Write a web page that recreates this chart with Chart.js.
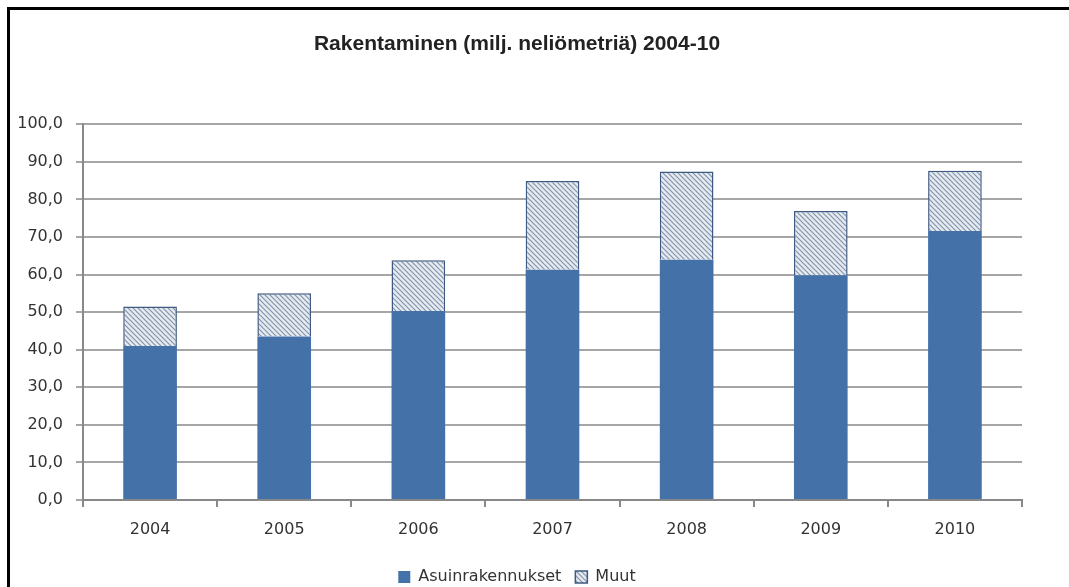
<!DOCTYPE html>
<html>
<head>
<meta charset="utf-8">
<title>Rakentaminen 2004-10</title>
<script src="https://cdn.jsdelivr.net/npm/chart.js@4/dist/chart.umd.min.js"></script>
<style>
    html, body { margin: 0; padding: 0; background: #fff; }
    #wrap { position: relative; width: 1069px; height: 587px; overflow: hidden; }
    #chart { position: absolute; left: 0; top: 0; }
    /* musta kehys vasemmalla ja ylhäällä */
    #frame {
        position: absolute; left: 7px; top: 7px; width: 1062px; height: 580px;
        border-left: 3px solid #000; border-top: 3px solid #000;
        box-sizing: border-box; pointer-events: none;
    }
</style>
</head>
<body>
<div id="wrap">
    <canvas id="chart" width="1069" height="587"></canvas>
    <div id="frame"></div>
</div>
<script>
// Data (milj. m2)
const vuodet = ['2004', '2005', '2006', '2007', '2008', '2009', '2010'];
const asuinrakennukset = [41.0, 43.5, 50.3, 61.3, 63.9, 59.8, 71.6];
const muut = [10.5, 11.5, 13.5, 23.6, 23.5, 17.1, 16.0];
const sarjaNimet = ['Asuinrakennukset', 'Muut'];

// Vinoviivakuvio "Muut"-sarjalle
function makeHatch() {
    const size = 5;
    const c = document.createElement('canvas');
    c.width = size;
    c.height = size;
    const g = c.getContext('2d');
    g.fillStyle = '#e6ebf1';
    g.fillRect(0, 0, size, size);
    g.strokeStyle = '#8394ab';
    g.lineWidth = 1.2;
    g.beginPath();
    g.moveTo(-1, -1); g.lineTo(size + 1, size + 1);
    g.moveTo(-1, size - 1); g.lineTo(1, size + 1);
    g.moveTo(size - 1, -1); g.lineTo(size + 1, 1);
    g.stroke();
    return g.createPattern(c, 'repeat');
}

const ctx = document.getElementById('chart').getContext('2d');
const hatch = makeHatch();

new Chart(ctx, {
    type: 'bar',
    data: {
        labels: vuodet,
        datasets: [
            {
                label: sarjaNimet[0],
                data: asuinrakennukset,
                backgroundColor: '#4571a9',
                borderWidth: 0
            },
            {
                label: sarjaNimet[1],
                data: muut,
                backgroundColor: hatch,
                borderColor: '#3e5a80',
                borderWidth: 1.5
            }
        ]
    },
    options: {
        responsive: false,
        animation: false,
        layout: { padding: { left: 12, right: 47, top: 0, bottom: -8 } },
        datasets: {
            bar: { categoryPercentage: 1.0, barPercentage: 0.4 }
        },
        plugins: {
            title: {
                display: true,
                text: 'Rakentaminen (milj. neliömetriä) 2004-10',
                color: '#222',
                font: { family: 'Liberation Sans', size: 21, weight: 'bold' },
                padding: { top: 32, bottom: 67 }
            },
            legend: {
                position: 'bottom',
                labels: {
                    color: '#333',
                    font: { family: 'DejaVu Sans', size: 16 },
                    boxWidth: 12,
                    boxHeight: 12,
                    padding: 14
                }
            },
            tooltip: { enabled: false }
        },
        scales: {
            x: {
                stacked: true,
                afterFit: function(scale) { scale.height = 55; },
                grid: {
                    drawOnChartArea: false,
                    drawTicks: true,
                    tickLength: 7,
                    color: '#888',
                    lineWidth: 2
                },
                border: { color: '#888', width: 2 },
                ticks: {
                    color: '#333',
                    padding: 13,
                    font: { family: 'DejaVu Sans', size: 16 }
                }
            },
            y: {
                stacked: true,
                min: 0,
                max: 100,
                afterFit: function(scale) { scale.width = 71; },
                grid: {
                    color: '#a6a6a6',
                    lineWidth: 2,
                    tickLength: 7
                },
                border: { color: '#888', width: 2 },
                ticks: {
                    stepSize: 10,
                    color: '#333',
                    padding: 13,
                    font: { family: 'DejaVu Sans', size: 16 },
                    callback: function(v) { return v.toFixed(1).replace('.', ','); }
                }
            }
        }
    }
});
</script>
</body>
</html>
